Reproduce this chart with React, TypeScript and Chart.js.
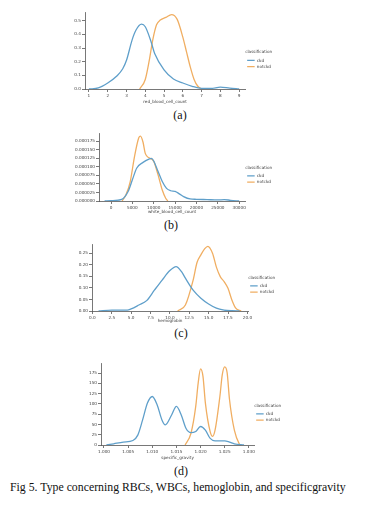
import React, { useEffect, useRef } from 'react';
import { Chart, registerables } from 'chart.js';

Chart.register(...registerables);

const FONT_FAMILY = "'DejaVu Sans', sans-serif";
const CKD_COLOR = '#5f9fca';
const NOTCKD_COLOR = '#f0ae62';
const SERIES_NAMES = ['ckd', 'notckd'];
const LEGEND_TITLE = 'classification';

// (a) red_blood_cell_count
const rbcCkdX = [1.0, 1.5, 2.0, 2.5, 2.8, 3.0, 3.3, 3.5, 3.8, 4.0, 4.3, 4.5, 5.0, 5.5, 6.0, 6.5, 7.0, 7.5, 8.0, 8.5, 9.0];
const rbcCkdY = [0.0, 0.008, 0.044, 0.097, 0.148, 0.21, 0.36, 0.43, 0.475, 0.456, 0.35, 0.26, 0.14, 0.073, 0.044, 0.02, 0.005, 0.004, 0.014, 0.006, 0.0];
const rbcNotX = [3.7, 4.0, 4.2, 4.4, 4.6, 4.8, 5.1, 5.4, 5.7, 6.0, 6.2, 6.4, 6.6, 6.8, 7.0];
const rbcNotY = [0.0, 0.07, 0.2, 0.36, 0.47, 0.505, 0.525, 0.545, 0.51, 0.38, 0.27, 0.16, 0.07, 0.02, 0.0];
const rbcXTicks = [1, 2, 3, 4, 5, 6, 7, 8, 9];
const rbcYTicks = [0, 0.1, 0.2, 0.3, 0.4, 0.5];

// (b) white_blood_cell_count
const wbcCkdX = [-1500, 0, 2500, 4000, 5000, 6000, 7500, 9000, 9500, 10000, 11000, 12000, 13000, 14000, 15000, 16000, 17000, 18500, 20000, 22500, 25000, 26500, 28000, 30000];
const wbcCkdY = [0, 0.000001, 0.000005, 0.000028, 0.000062, 0.000096, 0.000113, 0.000123, 0.000125, 0.000117, 0.000087, 0.000057, 0.000037, 0.00003, 0.000028, 0.000021, 0.000013, 0.000006, 0.000005, 0.000004, 0.000003, 0.000004, 0.000002, 0];
const wbcNotX = [2600, 3500, 4500, 5500, 6500, 6900, 7500, 8000, 8500, 9000, 10000, 11000, 12000, 12800, 13300];
const wbcNotY = [0, 0.000018, 0.000057, 0.00013, 0.000185, 0.00019, 0.000172, 0.00014, 0.00013, 0.000126, 0.000116, 0.000077, 0.000032, 0.000008, 0];
const wbcXTicks = [0, 5000, 10000, 15000, 20000, 25000, 30000];
const wbcYTicks = [0, 0.000025, 0.00005, 0.000075, 0.0001, 0.000125, 0.00015, 0.000175];

// (c) hemoglobin
const hemoCkdX = [0.8, 2.5, 4.5, 5.0, 6.0, 7.0, 8.0, 9.0, 10.0, 10.8, 11.5, 12.0, 13.0, 14.0, 15.0, 16.0, 17.0, 18.0, 19.0];
const hemoCkdY = [0, 0.004, 0.004, 0.009, 0.026, 0.045, 0.09, 0.134, 0.175, 0.192, 0.17, 0.142, 0.09, 0.055, 0.03, 0.012, 0.004, 0.001, 0];
const hemoNotX = [11.0, 12.0, 13.0, 13.5, 14.0, 14.5, 14.9, 15.5, 16.0, 16.5, 17.0, 17.5, 18.0, 18.5, 19.2];
const hemoNotY = [0, 0.026, 0.134, 0.21, 0.243, 0.27, 0.28, 0.25, 0.19, 0.149, 0.127, 0.098, 0.048, 0.012, 0];
const hemoXTicks = [0, 2.5, 5, 7.5, 10, 12.5, 15, 17.5, 20];
const hemoYTicks = [0, 0.05, 0.1, 0.15, 0.2, 0.25];

// (d) specific_gravity
const sgCkdX = [1.0005, 1.002, 1.004, 1.006, 1.007, 1.008, 1.009, 1.010, 1.011, 1.012, 1.0127, 1.014, 1.015, 1.016, 1.017, 1.018, 1.019, 1.020, 1.021, 1.022, 1.023, 1.025, 1.026, 1.027, 1.029];
const sgCkdY = [0, 3, 7, 11, 24, 61, 102, 118, 98, 61, 49, 73, 94, 73, 40, 30, 33, 45, 36, 16, 10, 10, 7, 3, 0];
const sgNotX = [1.0168, 1.018, 1.019, 1.0195, 1.020, 1.0205, 1.021, 1.022, 1.0225, 1.023, 1.024, 1.0245, 1.025, 1.0255, 1.026, 1.027, 1.028, 1.0283];
const sgNotY = [0, 28, 94, 150, 185, 167, 102, 32, 21, 36, 118, 171, 190, 176, 110, 36, 3, 0];
const sgXTicks = [1.0, 1.005, 1.01, 1.015, 1.02, 1.025, 1.03];
const sgYTicks = [0, 25, 50, 75, 100, 125, 150, 175];

const PANEL_LABELS = ['(a)', '(b)', '(c)', '(d)'];
const FIG_CAPTION = 'Fig 5. Type concerning RBCs, WBCs, hemoglobin, and specificgravity';

type Spec = {
  xTitle: string;
  ckdX: number[]; ckdY: number[]; notX: number[]; notY: number[];
  xTicks: number[]; yTicks: number[];
  xMin: number; xMax: number; xDec: number;
  yMax: number; yDec: number;
  top: number; height: number; padLeft: number; padTop: number; padRight: number;
  xAxisH: number; titlePad: number;
};

const specs: Spec[] = [
  {
    xTitle: 'red_blood_cell_count', ckdX: rbcCkdX, ckdY: rbcCkdY, notX: rbcNotX, notY: rbcNotY,
    xTicks: rbcXTicks, yTicks: rbcYTicks,
    xMin: 0.79, xMax: 9.32, xDec: 0, yMax: 0.564, yDec: 1,
    top: 0, height: 108, padLeft: 55, padTop: 12, padRight: 99, xAxisH: 19, titlePad: 3.5,
  },
  {
    xTitle: 'white_blood_cell_count', ckdX: wbcCkdX, ckdY: wbcCkdY, notX: wbcNotX, notY: wbcNotY,
    xTicks: wbcXTicks, yTicks: wbcYTicks,
    xMin: -2812, xMax: 31404, xDec: 0, yMax: 0.000199, yDec: 6,
    top: 120, height: 98, padLeft: 69, padTop: 13, padRight: 99, xAxisH: 17, titlePad: 3.5,
  },
  {
    xTitle: 'hemoglobin', ckdX: hemoCkdX, ckdY: hemoCkdY, notX: hemoNotX, notY: hemoNotY,
    xTicks: hemoXTicks, yTicks: hemoYTicks,
    xMin: -0.05, xMax: 20.1, xDec: 1, yMax: 0.29, yDec: 2,
    top: 230, height: 97, padLeft: 62, padTop: 14, padRight: 96, xAxisH: 16, titlePad: 3.5,
  },
  {
    xTitle: 'specific_gravity', ckdX: sgCkdX, ckdY: sgCkdY, notX: sgNotX, notY: sgNotY,
    xTicks: sgXTicks, yTicks: sgYTicks,
    xMin: 0.99938, xMax: 1.0311, xDec: 3, yMax: 199.5, yDec: 0,
    top: 340, height: 124, padLeft: 71, padTop: 23, padRight: 90, xAxisH: 19, titlePad: 3.5,
  },
];

const TEXT_COLOR = '#444';
const AXIS_COLOR = '#555';
const FONT_SIZE = 4.2;

function KdePanel({ spec }: { spec: Spec }) {
  const ref = useRef<HTMLCanvasElement | null>(null);
  useEffect(() => {
    const s = spec;
    const font = { family: FONT_FAMILY, size: FONT_SIZE };
    const axisCommon = {
      border: { display: true, color: AXIS_COLOR, width: 0.8 },
      grid: { display: true, drawOnChartArea: false, drawTicks: true, tickLength: 3, tickColor: AXIS_COLOR, tickWidth: 0.8 },
    };
    const chart = new Chart(ref.current as HTMLCanvasElement, {
      type: 'line',
      data: {
        datasets: [
          {
            label: SERIES_NAMES[0],
            data: s.ckdX.map((x, i) => ({ x, y: s.ckdY[i] })),
            borderColor: CKD_COLOR, backgroundColor: CKD_COLOR, borderWidth: 1.3,
            pointRadius: 0, pointStyle: 'line', fill: false, cubicInterpolationMode: 'monotone',
          },
          {
            label: SERIES_NAMES[1],
            data: s.notX.map((x, i) => ({ x, y: s.notY[i] })),
            borderColor: NOTCKD_COLOR, backgroundColor: NOTCKD_COLOR, borderWidth: 1.3,
            pointRadius: 0, pointStyle: 'line', fill: false, cubicInterpolationMode: 'monotone',
          },
        ],
      },
      options: {
        animation: false,
        responsive: false,
        devicePixelRatio: 1,
        layout: { padding: { left: s.padLeft, top: s.padTop, right: s.padRight, bottom: 0 } },
        plugins: {
          legend: {
            position: 'right',
            align: 'center',
            labels: {
              usePointStyle: true, pointStyle: 'line', pointStyleWidth: 7.5,
              font, color: TEXT_COLOR, padding: 2,
            },
            title: { display: true, text: LEGEND_TITLE, font, color: TEXT_COLOR, position: 'start', padding: 1 },
          },
          tooltip: { enabled: false },
        },
        scales: {
          x: {
            type: 'linear', min: s.xMin, max: s.xMax,
            ...axisCommon,
            afterBuildTicks: (sc: any) => { sc.ticks = s.xTicks.map((v) => ({ value: v })); },
            ticks: {
              autoSkip: false, maxRotation: 0,
              font, color: TEXT_COLOR, padding: 1.5,
              callback: (v: any) => Number(v).toFixed(s.xDec),
            },
            title: { display: true, text: s.xTitle, font, color: TEXT_COLOR, padding: { top: 0, bottom: s.titlePad } },
            afterFit: (sc: any) => { sc.height = s.xAxisH; },
          },
          y: {
            type: 'linear', min: 0, max: s.yMax,
            ...axisCommon,
            afterBuildTicks: (sc: any) => { sc.ticks = s.yTicks.map((v) => ({ value: v })); },
            ticks: {
              autoSkip: false,
              font, color: TEXT_COLOR, padding: 1,
              callback: (v: any) => Number(v).toFixed(s.yDec),
            },
            afterFit: (sc: any) => { sc.width = 30; },
          },
        },
      } as any,
    });
    return () => chart.destroy();
  }, [spec]);
  return (
    <canvas
      ref={ref}
      width={380}
      height={spec.height}
      style={{ position: 'absolute', left: 0, top: spec.top, width: 380, height: spec.height }}
    />
  );
}

const captionPos = [
  { cx: 180, cy: 115 },
  { cx: 171, cy: 225 },
  { cx: 181, cy: 333 },
  { cx: 181, cy: 471 },
];

export default function App() {
  return (
    <div style={{ position: 'fixed', left: 0, top: 0, width: 380, height: 507, background: '#fff', overflow: 'hidden' }}>
      {captionPos.map((p, i) => (
        <div
          key={i}
          style={{
            position: 'absolute', left: p.cx - 20, top: p.cy - 7, width: 40, textAlign: 'center',
            fontFamily: "'Liberation Serif', serif", fontSize: 12, lineHeight: '14px', color: '#111',
          }}
        >
          {PANEL_LABELS[i]}
        </div>
      ))}
      <div
        style={{
          position: 'absolute', left: 10, top: 479.5, whiteSpace: 'nowrap',
          fontFamily: "'Liberation Serif', serif", fontSize: 11.8, lineHeight: '14px', color: '#111',
        }}
      >
        {FIG_CAPTION}
      </div>
      {specs.map((s, i) => (
        <KdePanel key={i} spec={s} />
      ))}
    </div>
  );
}
